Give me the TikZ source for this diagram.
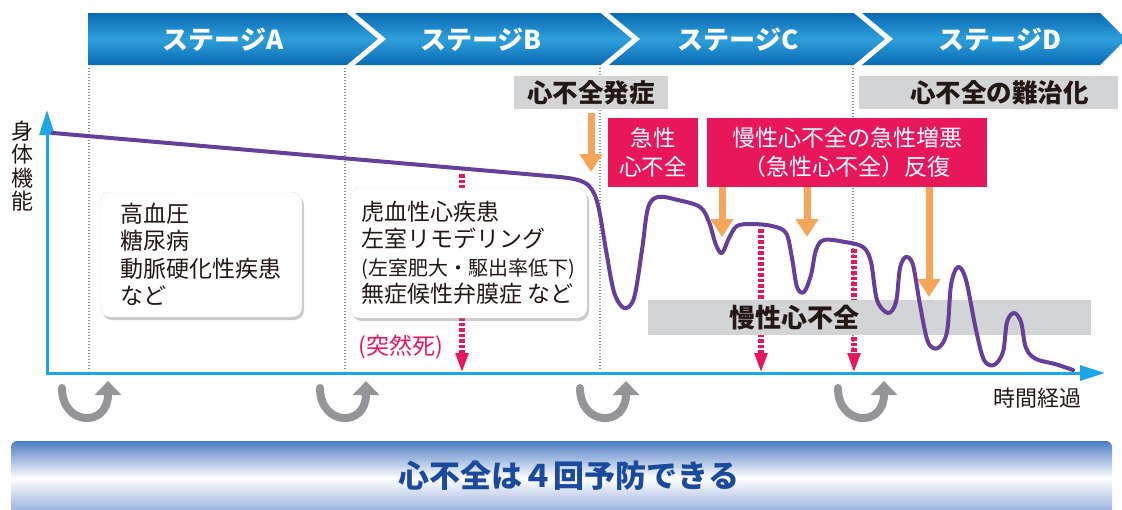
\documentclass[tikz,border=0pt]{standalone}
\usepackage{fontspec}
\setmainfont{Noto Sans CJK JP}
\usetikzlibrary{arrows.meta,shadows}
\definecolor{bandtop}{HTML}{0A6AB2}
\definecolor{bandmid}{HTML}{2E9FDB}
\definecolor{boxgray}{HTML}{D3D4D6}
\definecolor{txtdark}{HTML}{231815}
\definecolor{crim}{HTML}{E8175B}
\definecolor{orng}{HTML}{F6A65B}
\definecolor{purp}{HTML}{663F98}
\definecolor{axblue}{HTML}{1DA6E3}
\definecolor{ugray}{HTML}{939598}
\definecolor{dotgray}{HTML}{8C8C8C}
\definecolor{bbtop}{HTML}{4D7CC4}
\definecolor{bbbot}{HTML}{8EA8DB}
\definecolor{prevblue}{HTML}{1B4A9C}
\begin{document}
\begin{tikzpicture}[x=1pt,y=-1pt,
  stagelbl/.style={text=white,font=\fontsize{26}{26}\selectfont\bfseries,inner sep=0pt},
  graybox/.style={fill=boxgray,inner sep=0pt,text=txtdark,font=\fontsize{25.5}{25.5}\selectfont\bfseries},
  redbox/.style={fill=crim,text=white,inner sep=0pt,align=center,font=\fontsize{22.5}{29}\selectfont},
  notebox/.style={fill=white,draw=black!10,rounded corners=10pt,align=left,inner sep=0pt,text=txtdark,
    font=\fontsize{23}{27.5}\selectfont,
    drop shadow={shadow xshift=2pt,shadow yshift=-3pt,opacity=.35,fill=black!60}},
  vdot/.style={draw=dotgray,line width=1.3pt,dash pattern=on 1.2pt off 1.8pt},
  orangearrow/.style={draw=orng,line width=7pt,-{Triangle[width=22pt,length=18pt]}},
  suddenarrow/.style={draw=crim,line width=6pt,line cap=butt,dash pattern=on 3.5pt off 2pt,-{Triangle[width=12pt,length=20pt]}},
  uarrow/.style={draw=ugray,line width=8pt,line cap=round,-{Triangle[width=26pt,length=14pt]}},
  axisline/.style={draw=axblue,line width=3pt,{Triangle[width=15pt,length=25pt]}-{Triangle[width=15pt,length=25pt]}},
  curve/.style={draw=purp,line width=4pt,line join=round,line cap=round},
  plain/.style={inner sep=0pt,text=txtdark}]
\useasboundingbox (0,0) rectangle (1122,509);

% stage band
\shade[top color=bandtop,bottom color=bandtop,middle color=bandmid]
  (88,13) -- (1100,13) -- (1126,39) -- (1100,65) -- (88,65) -- cycle;
\foreach \cx in {346,600,853}
  \draw[white,line width=5pt] (\cx,9) -- (\cx+36,39) -- (\cx,69);
\node[stagelbl] (stA) at (223,40) {ステージA};
\node[stagelbl] (stB) at (481,40) {ステージB};
\node[stagelbl] (stC) at (738,40) {ステージC};
\node[stagelbl] (stD) at (1000,40) {ステージD};

% stage dividers
\foreach \cx in {89,345,600,853}
  \draw[vdot] (\cx,68) -- (\cx,371);

% gray headers
\node[graybox,minimum width=154pt,minimum height=33pt] (onset) at (591,92.5) {心不全発症};
\node[graybox,minimum width=259pt,minimum height=33pt] (refract) at (988.5,92.5) {\hspace*{22pt}心不全の難治化};

% axes
\coordinate (ytip) at (47,110);
\coordinate (origin) at (47,373);
\coordinate (xtip) at (1105,373);
\draw[axisline] (ytip) -- (origin) -- (xtip);
\node[plain,align=center,font=\fontsize{22}{23.3}\selectfont] (ylabel) at (22,166) {身\\体\\機\\能};
\node[plain,font=\fontsize{22}{22}\selectfont] (xlabel) at (1037,398) {時間経過};

% sudden death arrows
\coordinate (sd1s) at (462,174); \coordinate (sd1e) at (462,373);
\coordinate (sd2s) at (761,229); \coordinate (sd2e) at (761,373);
\coordinate (sd3s) at (854,249); \coordinate (sd3e) at (854,373);
\draw[suddenarrow] (sd1s) -- (sd1e);
\draw[suddenarrow] (sd2s) -- (sd2e);
\draw[suddenarrow] (sd3s) -- (sd3e);

% chronic bar
\fill[boxgray] (648,300) rectangle (1091,335);
\node[plain,font=\fontsize{26}{26}\selectfont\bfseries] (chronic) at (794,318) {慢性心不全};

% physical function curve
\draw[curve] (53,133) -- (560,177) -- plot[smooth,tension=0.55] coordinates {
 (560,177) (578,180) (590,187) (598,205) (606,250) (614,292) (624,308) (634,298) (642,250)
 (648,208) (658,197) (678,200) (700,207) (709,222) (716,245) (722,253) (729,238) (737,226)
 (752,224) (772,226) (786,233) (792,258) (797,287) (804,292) (811,275) (816,250) (824,240)
 (845,242) (863,247) (871,262) (877,300) (888,313) (896,302) (900,268) (906,257) (913,265)
 (920,305) (928,342) (938,348) (947,332) (951,285) (958,267) (966,280) (976,330) (984,360)
 (994,365) (1003,352) (1007,322) (1014,313) (1021,322) (1026,348) (1036,359) (1055,364) (1073,370)};

% note boxes
\node[notebox,minimum width=202pt,minimum height=125pt] (boxA) at (201,254.5)
  {高血圧\\糖尿病\\動脈硬化性疾患\\など};
\node[notebox,minimum width=237pt,minimum height=130pt] (boxB) at (468.5,253)
  {虎血性心疾患\\左室リモデリング\\{\fontsize{20}{27.5}\selectfont (左室肥大・駆出率低下)}\\無症候性弁膜症 など};
\node[plain,text=crim,font=\fontsize{23}{23}\selectfont] (sudden) at (401,347) {(突然死)};

% red boxes
\node[redbox,minimum width=90pt,minimum height=69pt] (acute) at (653,152.5) {急性\\心不全};
\node[redbox,minimum width=280pt,minimum height=69pt,font=\fontsize{23}{29}\selectfont] (repeat) at (847,152.5)
  {慢性心不全の急性増悪\\（急性心不全）反復};

% orange arrows
\coordinate (oa1) at (591,172);
\coordinate (oa2) at (722,237);
\coordinate (oa3) at (807,237);
\coordinate (oa4) at (929,297);
\draw[orangearrow] ([yshift=-4pt]onset.south) -- (oa1);
\draw[orangearrow] (repeat.south -| oa2) -- (oa2);
\draw[orangearrow] (repeat.south -| oa3) -- (oa3);
\draw[orangearrow] (repeat.south -| oa4) -- (oa4);

% prevention U-turn arrows
\foreach \ux in {62,320,580,838}
  \draw[uarrow] (\ux,388) .. controls (\ux,426) and (\ux+46,428) .. (\ux+46,381);

% bottom banner
\shade[top color=bbtop,bottom color=bbbot,middle color=white,rounded corners=6pt]
  (11,441) rectangle (1112,515);
\node[plain,text=prevblue,font=\fontsize{31}{31}\selectfont\bfseries] (prevent) at (569,476) {心不全は４回予防できる};
\end{tikzpicture}
\end{document}
